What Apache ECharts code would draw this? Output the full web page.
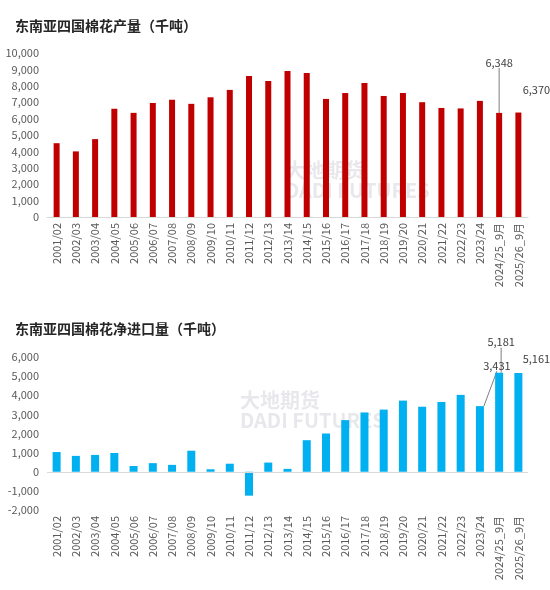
<!DOCTYPE html>
<html lang="zh">
<head>
<meta charset="UTF-8">
<script src="https://cdn.jsdelivr.net/npm/echarts@6/dist/echarts.min.js"></script>
<style>
  html, body { margin: 0; padding: 0; background: #fff; }
  #chart { width: 550px; height: 590px; }
</style>
</head>
<body>
<div id="chart"></div>
<script>
var seasons = ['2001/02','2002/03','2003/04','2004/05','2005/06','2006/07','2007/08','2008/09','2009/10','2010/11',
  '2011/12','2012/13','2013/14','2014/15','2015/16','2016/17','2017/18','2018/19','2019/20','2020/21',
  '2021/22','2022/23','2023/24','2024/25_9月','2025/26_9月'];
var production = [4500,4000,4750,6600,6350,6950,7150,6900,7300,7750,
  8600,8300,8900,8780,7200,7560,8170,7380,7560,7000,
  6650,6620,7080,6348,6370];
var netImports = [1030,830,880,980,300,450,360,1100,130,420,
  -1250,480,150,1650,2000,2700,3100,3250,3720,3400,
  3650,4020,3431,5181,5161];

var font = '"Noto Sans CJK SC", sans-serif';
var txt = { color: '#595959', fontSize: 11, fontFamily: font };

// index -> [dx, dy, leader line]
var prodMarks = { 23: [0, -40, true], 24: [18, -12, false] };
var impMarks = { 22: [17, -30, true], 23: [2, -20, true], 24: [18, -4, false] };

function labelled(values, marks) {
  return values.map(function (v, i) {
    var m = marks[i];
    if (!m) return v;
    return {
      value: v,
      label: { show: true, position: 'top', formatter: function (p) { return p.value.toLocaleString('en-US'); },
        color: '#404040', fontSize: 11, fontFamily: font },
      labelLine: { show: m[2], lineStyle: { color: '#7f7f7f', width: 1 } }
    };
  });
}
function layoutFor(marks) {
  return function (p) {
    var m = marks[p.dataIndex];
    return m ? { dx: m[0], dy: m[1] } : {};
  };
}

var chart = echarts.init(document.getElementById('chart'));
chart.setOption({
  animation: false,
  title: [
    { text: '东南亚四国棉花产量（千吨）', left: 10, top: 14, textStyle: { fontSize: 14, fontWeight: 'bold', color: '#262626', fontFamily: font } },
    { text: '东南亚四国棉花净进口量（千吨）', left: 10, top: 317, textStyle: { fontSize: 14, fontWeight: 'bold', color: '#262626', fontFamily: font } }
  ],
  graphic: [
    { type: 'text', left: 285, top: 160, style: { text: '大地期货\nDADI FUTURES', fill: 'rgba(150,150,170,0.22)', font: 'bold 20px ' + font } },
    { type: 'text', left: 240, top: 390, style: { text: '大地期货\nDADI FUTURES', fill: 'rgba(150,150,170,0.22)', font: 'bold 20px ' + font } }
  ],
  grid: [
    { left: 47, right: 22, top: 53, height: 164 },
    { left: 47, right: 22, top: 357, height: 153 }
  ],
  xAxis: [
    { type: 'category', gridIndex: 0, data: seasons,
      axisLine: { lineStyle: { color: '#d9d9d9' } }, axisTick: { show: false },
      axisLabel: Object.assign({ rotate: 90, interval: 0, margin: 6 }, txt) },
    { type: 'category', gridIndex: 1, data: seasons,
      axisLine: { show: false, onZero: false }, axisTick: { show: false },
      axisLabel: Object.assign({ rotate: 90, interval: 0, margin: 6 }, txt) }
  ],
  yAxis: [
    { type: 'value', gridIndex: 0, min: 0, max: 10000, interval: 1000,
      splitLine: { show: false }, axisLine: { show: false }, axisTick: { show: false },
      axisLabel: Object.assign({ formatter: function (v) { return v.toLocaleString('en-US'); } }, txt) },
    { type: 'value', gridIndex: 1, min: -2000, max: 6000, interval: 1000,
      splitLine: { show: false }, axisLine: { show: false }, axisTick: { show: false },
      axisLabel: Object.assign({ formatter: function (v) { return v.toLocaleString('en-US'); } }, txt) }
  ],
  series: [
    { type: 'bar', xAxisIndex: 0, yAxisIndex: 0, barWidth: 6, itemStyle: { color: '#C00000' },
      labelLayout: layoutFor(prodMarks),
      data: labelled(production, prodMarks) },
    { type: 'bar', xAxisIndex: 1, yAxisIndex: 1, barWidth: 8, itemStyle: { color: '#00B0F0' },
      labelLayout: layoutFor(impMarks),
      data: labelled(netImports, impMarks),
      markLine: { silent: true, symbol: 'none', label: { show: false },
        lineStyle: { color: '#d9d9d9', type: 'solid', width: 1 }, data: [{ yAxis: 0 }] } }
  ]
});
</script>
</body>
</html>
